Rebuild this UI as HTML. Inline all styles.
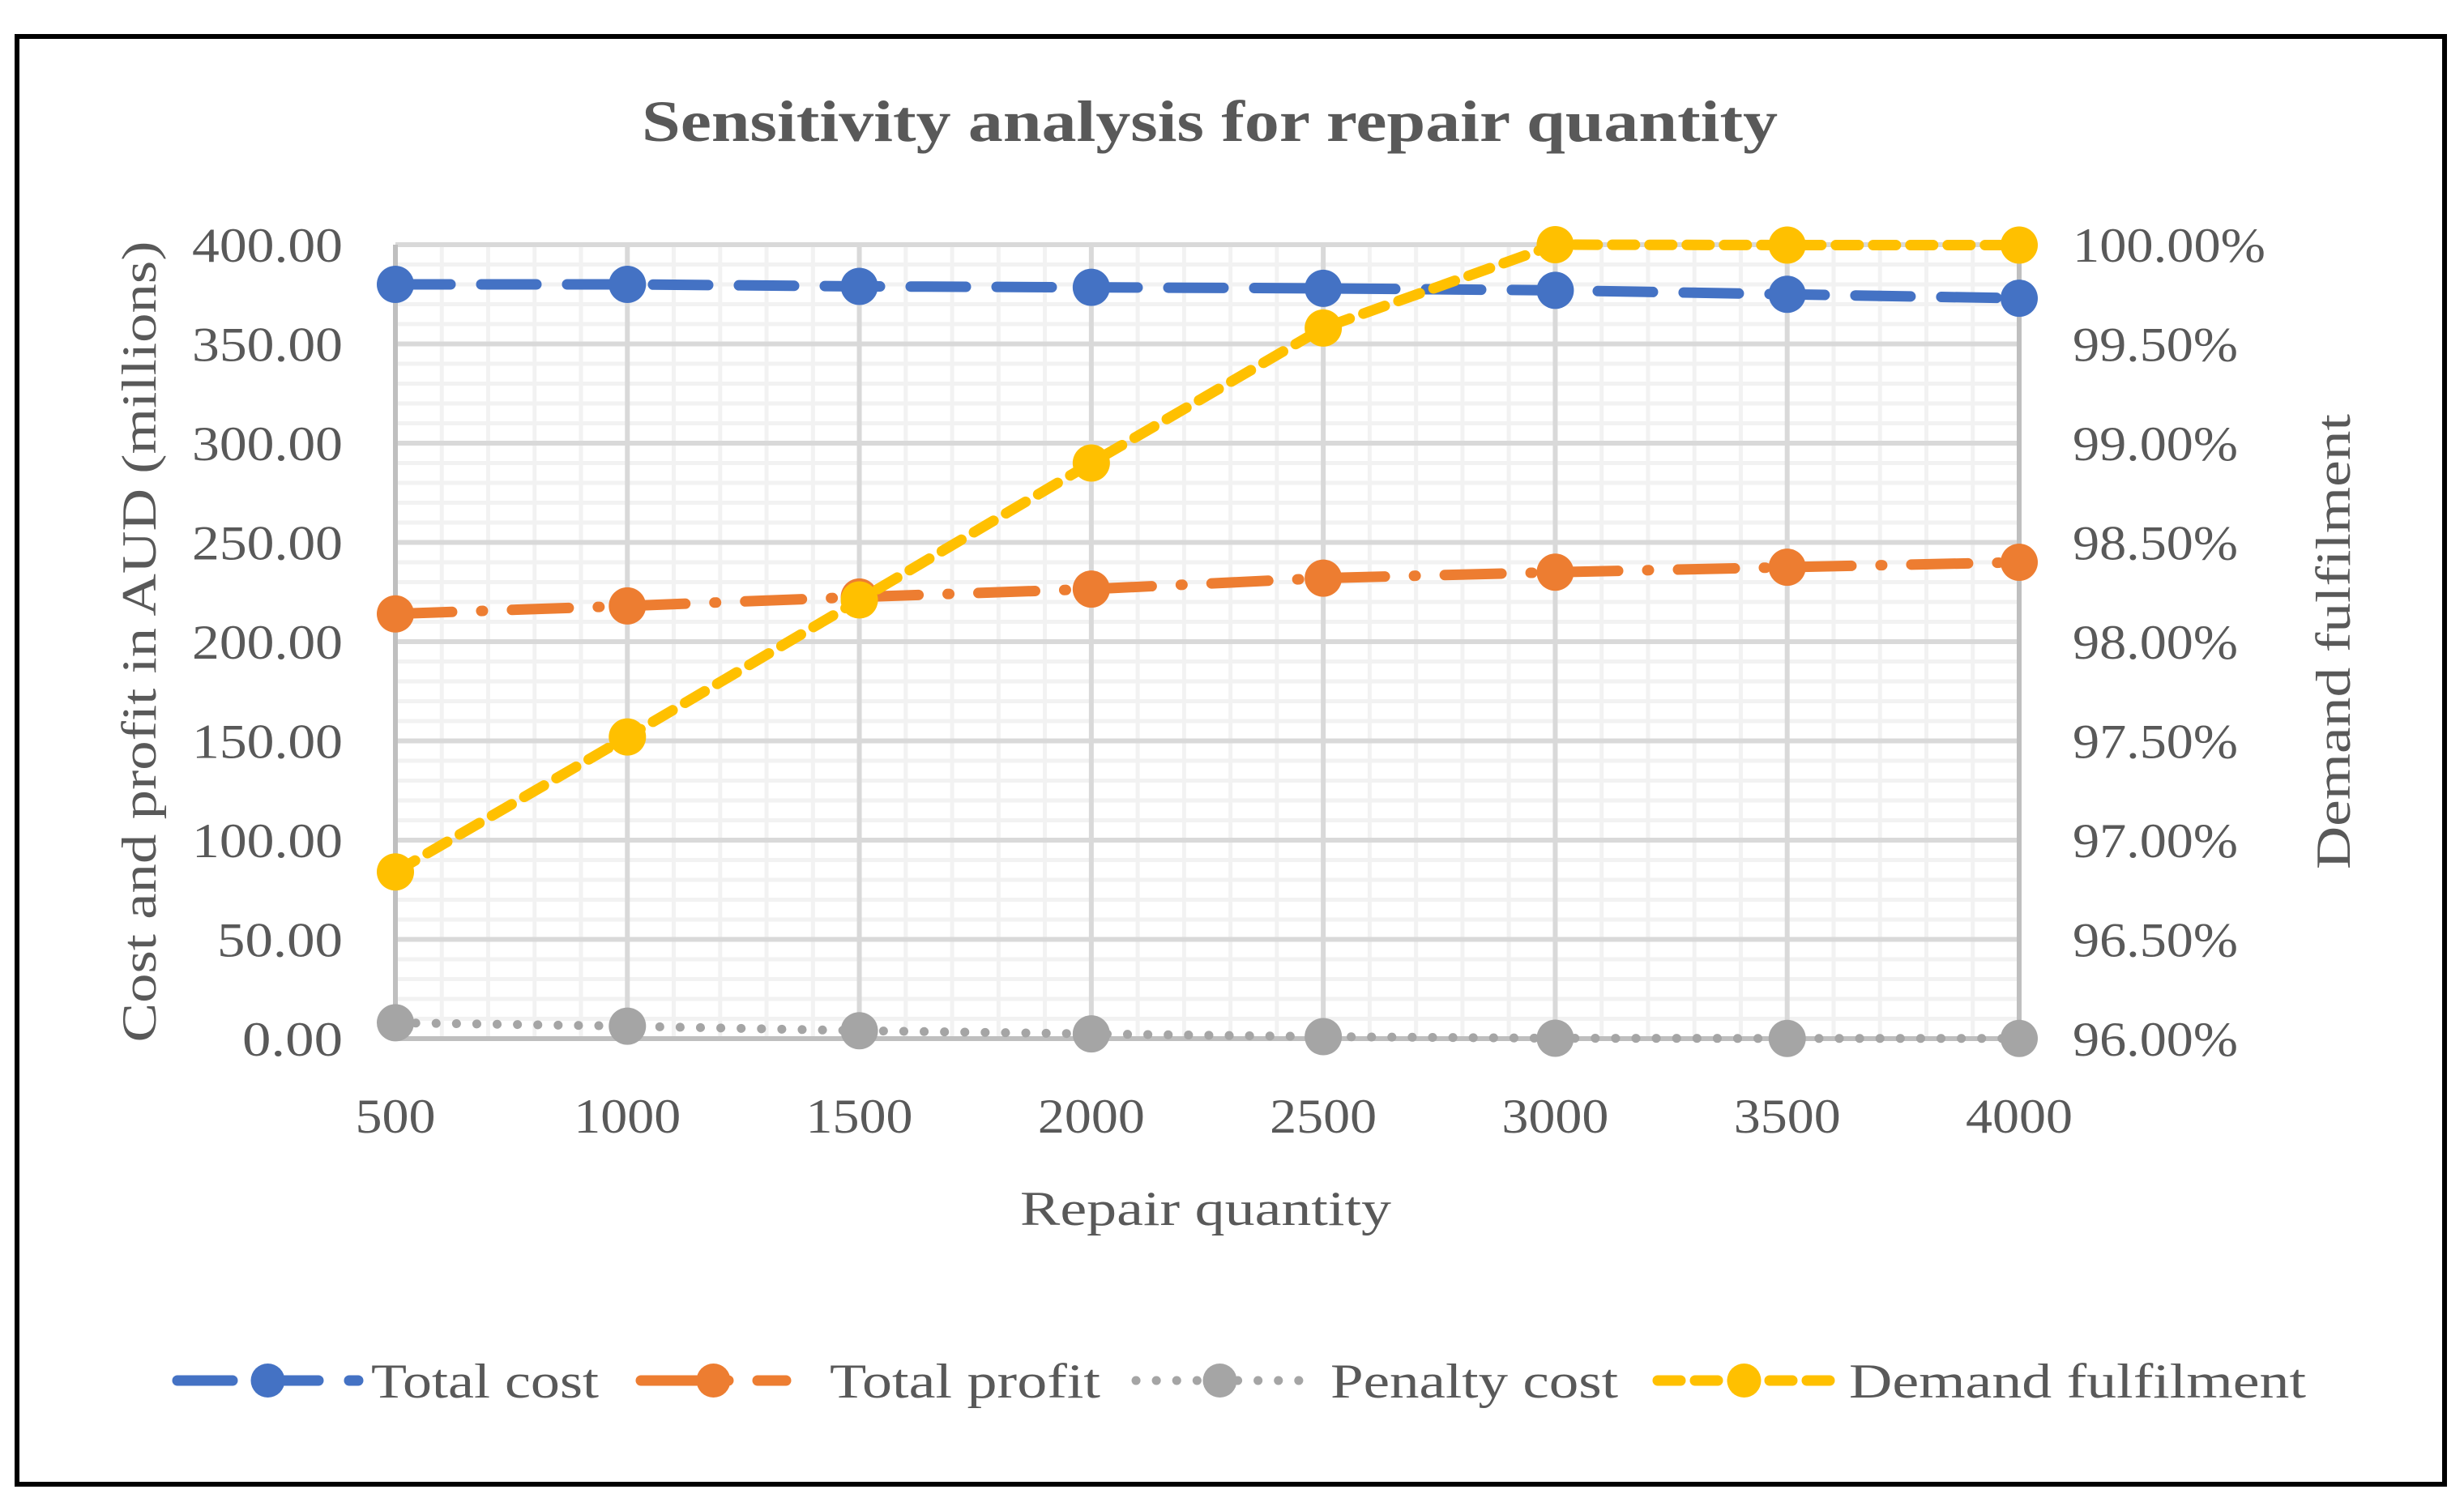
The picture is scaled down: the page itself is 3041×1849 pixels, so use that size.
<!DOCTYPE html>
<html><head><meta charset="utf-8"><style>
html,body{margin:0;padding:0;background:#fff;}
svg{display:block;}
text{font-family:"Liberation Serif",serif;fill:#595959;}
</style></head><body>
<svg id="chart" width="3041" height="1849" viewBox="0 0 3041 1849" xmlns="http://www.w3.org/2000/svg">
<rect x="21" y="45" width="2996" height="1787" fill="#fff" stroke="#000" stroke-width="6"/>
<text x="1493" y="174" font-size="72" font-weight="bold" text-anchor="middle" textLength="1402" lengthAdjust="spacingAndGlyphs">Sensitivity analysis for repair quantity</text>
<g id="grid"></g>
<g id="axes"></g>
<g id="series"></g>
<text x="1488" y="1512" font-size="60" text-anchor="middle" textLength="458" lengthAdjust="spacingAndGlyphs">Repair quantity</text>
<text transform="translate(192,792) rotate(-90)" font-size="60" text-anchor="middle" textLength="989" lengthAdjust="spacingAndGlyphs">Cost and profit in AUD (millions)</text>
<text transform="translate(2900,792) rotate(-90)" font-size="60" text-anchor="middle" textLength="562" lengthAdjust="spacingAndGlyphs">Demand fulfilment</text>
<g id="legend"></g>
</svg>
<script>
const categories=[500,1000,1500,2000,2500,3000,3500,4000];
const totalCost=[380,380,379,378.5,378,377,375,373];
const totalProfit=[214,218,222.5,226.5,232,235,237.5,240];
const penaltyCost=[8,6.3,4,2.4,1,0.2,0.1,0.1];
const demandFulfilment=[96.84,97.52,98.21,98.90,99.58,100,99.998,99.998];
const yTicks=[0,50,100,150,200,250,300,350,400];
const y2Ticks=[96,96.5,97,97.5,98,98.5,99,99.5,100];
const legendLabels=['Total cost','Total profit','Penalty cost','Demand fulfilment'];

const NS='http://www.w3.org/2000/svg';
const X0=488,X1=2492,Y0=1282,Y1=302;
const xS=v=>X0+(v-500)/(4000-500)*(X1-X0);
const yS=v=>Y0-v/400*(Y0-Y1);
const y2S=v=>Y0-(v-96)/4*(Y0-Y1);
function mk(tag,attrs,parent){const e=document.createElementNS(NS,tag);for(const k in attrs)e.setAttribute(k,attrs[k]);parent.appendChild(e);return e;}
const grid=document.getElementById('grid'),axes=document.getElementById('axes'),ser=document.getElementById('series'),leg=document.getElementById('legend');
for(let v=0;v<=400;v+=10){if(v%50===0)continue;const l=mk('line',{x1:X0,x2:X1,y1:yS(v),y2:yS(v),stroke:'#f2f2f2','stroke-width':5},grid);}
for(let v=500;v<=4000;v+=100){if(v%500===0)continue;const l=mk('line',{x1:xS(v),x2:xS(v),y1:Y1,y2:Y0,stroke:'#f2f2f2','stroke-width':5},grid);}
yTicks.forEach((v,i)=>{
 const l=mk('line',{x1:X0,x2:X1,y1:yS(v),y2:yS(v),stroke:'#d9d9d9','stroke-width':6},grid);
 
 const s=v.toFixed(2);
 const t=mk('text',{x:423,y:yS(v)+21,'font-size':60,'text-anchor':'end',textLength:31*s.length,lengthAdjust:'spacingAndGlyphs'},axes);t.textContent=s;
 
 const s2=y2Ticks[i].toFixed(2)+'%';
 const t2=mk('text',{x:2558,y:y2S(y2Ticks[i])+21,'font-size':60,textLength:34*s2.length,lengthAdjust:'spacingAndGlyphs'},axes);t2.textContent=s2;
 
});
categories.forEach(c=>{
 if(c!==500&&c!==4000){const l=mk('line',{x1:xS(c),x2:xS(c),y1:Y1,y2:Y0,stroke:'#d9d9d9','stroke-width':6},grid);}
 const s=String(c);
 const t=mk('text',{x:xS(c),y:1398,'font-size':60,'text-anchor':'middle',textLength:33*s.length,lengthAdjust:'spacingAndGlyphs'},axes);t.textContent=s;
 
});
[[X0,Y1,X0,Y0],[X1,Y1,X1,Y0],[X0,Y0,X1,Y0]].forEach(a=>{const l=mk('line',{x1:a[0],y1:a[1],x2:a[2],y2:a[3],stroke:'#bfbfbf','stroke-width':6},axes);});

const defs=[
 {name:'total-cost',vals:totalCost,sc:yS,color:'#4472c4',dash:'68 38'},
 {name:'total-profit',vals:totalProfit,sc:yS,color:'#ed7d31',dash:'70 36 2 36'},
 {name:'penalty-cost',vals:penaltyCost,sc:yS,color:'#a5a5a5',dash:'0.1 25'},
 {name:'demand-fulfilment',vals:demandFulfilment,sc:y2S,color:'#ffc000',dash:'28 18'}
];
defs.forEach(d=>{
 const g=mk('g',{},ser);
 const pts=categories.map((c,i)=>xS(c)+','+d.sc(d.vals[i])).join(' ');
 const pl=mk('polyline',{points:pts,fill:'none',stroke:d.color,'stroke-width':d.name==='penalty-cost'?11:13,'stroke-dasharray':d.dash,'stroke-linecap':'round','stroke-linejoin':'round'},g);
 
 categories.forEach((c,i)=>{const m=mk('circle',{cx:xS(c),cy:d.sc(d.vals[i]),r:23,fill:d.color},g);});
});
const legX=[[219,442,458,281],[791,970,1024,334],[1402,1609,1642,355],[2046,2259,2282,564]];
defs.forEach((d,i)=>{
 const g=mk('g',{},leg);
 const [a,b,tx,tl]=legX[i];const y=1704;
 mk('line',{x1:a,x2:b,y1:y,y2:y,stroke:d.color,'stroke-width':d.name==='penalty-cost'?11:13,'stroke-dasharray':d.dash,'stroke-linecap':'round'},g);
 mk('circle',{cx:(a+b)/2,cy:y,r:21,fill:d.color},g);
 const t=mk('text',{x:tx,y:y+21,'font-size':60,textLength:tl,lengthAdjust:'spacingAndGlyphs'},g);t.textContent=legendLabels[i];
});
</script>
</body></html>
